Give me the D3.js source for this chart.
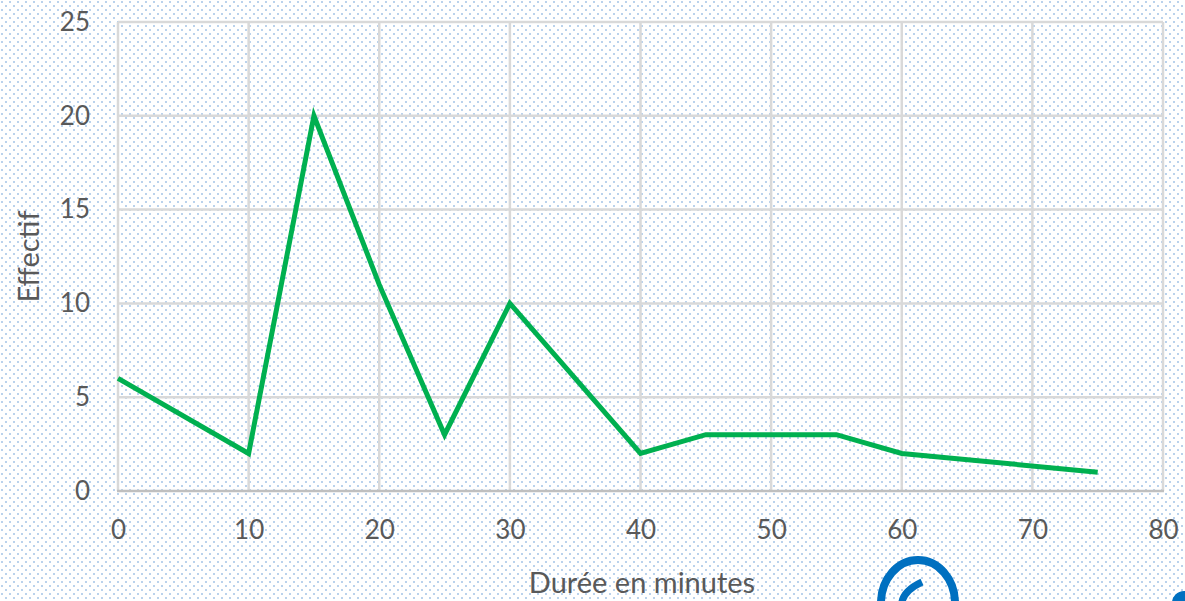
<!DOCTYPE html>
<html>
<head>
<meta charset="utf-8">
<script src="https://cdn.jsdelivr.net/npm/d3@7"></script>
<style>
  html, body { margin: 0; padding: 0; background: #fff; }
  svg { display: block; }
</style>
</head>
<body>
<script>
// chart data
const durations = [0, 10, 15, 20, 25, 30, 40, 45, 55, 60, 75];
const counts = [6, 2, 20, 11, 3, 10, 2, 3, 3, 2, 1];
const xTicks = [0, 10, 20, 30, 40, 50, 60, 70, 80];
const yTicks = [0, 5, 10, 15, 20, 25];
const xTitle = "Durée en minutes";
const yTitle = "Effectif";

const width = 1185, height = 601;
const margin = { left: 118, right: 22, top: 22, bottom: 110 };

const svg = d3.create("svg")
  .attr("width", width)
  .attr("height", height);
document.body.appendChild(svg.node());

// dotted background
const defs = svg.append("defs");
const pat = defs.append("pattern")
  .attr("id", "dots")
  .attr("width", 8).attr("height", 8)
  .attr("patternUnits", "userSpaceOnUse");
pat.append("rect").attr("width", 8).attr("height", 8).attr("fill", "#fff");
pat.append("circle").attr("cx", 2).attr("cy", 2).attr("r", 1).attr("fill", "#a3c4e6");
pat.append("circle").attr("cx", 6).attr("cy", 6).attr("r", 1).attr("fill", "#a3c4e6");
svg.append("rect").attr("width", width).attr("height", height).attr("fill", "url(#dots)");

const x = d3.scaleLinear().domain([0, 80]).range([margin.left, width - margin.right]);
const y = d3.scaleLinear().domain([0, 25]).range([height - margin.bottom, margin.top]);

const font = "Lato, 'Open Sans', sans-serif";
const textColor = "#595959";

// grid
svg.append("g")
  .selectAll("line.v")
  .data(xTicks)
  .join("line")
  .attr("x1", d => x(d)).attr("x2", d => x(d))
  .attr("y1", y(25)).attr("y2", y(0))
  .attr("stroke", "#d9d9d9").attr("stroke-width", 2.5);

svg.append("g")
  .selectAll("line.h")
  .data(yTicks.slice(1))
  .join("line")
  .attr("x1", x(0)).attr("x2", x(80))
  .attr("y1", d => y(d)).attr("y2", d => y(d))
  .attr("stroke", "#d9d9d9").attr("stroke-width", 2.5);

// x axis line
svg.append("line")
  .attr("x1", x(0) - 1).attr("x2", x(80) + 1)
  .attr("y1", y(0)).attr("y2", y(0))
  .attr("stroke", "#bfbfbf").attr("stroke-width", 2.5);

// axes labels via d3 axes
const xAxis = svg.append("g")
  .attr("transform", `translate(0,${y(0)})`)
  .call(d3.axisBottom(x).tickValues(xTicks).tickSize(0).tickPadding(30));
xAxis.select(".domain").remove();
xAxis.selectAll("text")
  .attr("fill", textColor)
  .style("font-family", font)
  .style("font-size", "26px");

const yAxis = svg.append("g")
  .attr("transform", `translate(${x(0)},0)`)
  .call(d3.axisLeft(y).tickValues(yTicks).tickSize(0).tickPadding(28));
yAxis.select(".domain").remove();
yAxis.selectAll("text")
  .attr("fill", textColor)
  .style("font-family", font)
  .style("font-size", "26px");

// titles
svg.append("text")
  .attr("x", 642).attr("y", 593)
  .attr("text-anchor", "middle")
  .attr("fill", textColor)
  .style("font-family", font)
  .style("font-size", "29px")
  .text(xTitle);

svg.append("text")
  .attr("transform", `translate(39,${(y(0) + y(25)) / 2}) rotate(-90)`)
  .attr("text-anchor", "middle")
  .attr("fill", textColor)
  .style("font-family", font)
  .style("font-size", "29px")
  .text(yTitle);

// data line
const line = d3.line()
  .x((d, i) => x(durations[i]))
  .y(d => y(d));

svg.append("path")
  .datum(counts)
  .attr("d", line)
  .attr("fill", "none")
  .attr("stroke", "#00b050")
  .attr("stroke-width", 5)
  .attr("stroke-linejoin", "miter");

// partial logo at the bottom edge
const logo = svg.append("g").attr("fill", "none").attr("stroke", "#0070c0");
logo.append("ellipse")
  .attr("cx", 918).attr("cy", 603).attr("rx", 37).attr("ry", 43)
  .attr("stroke-width", 8);
logo.append("path")
  .attr("d", "M922,582 C905,590 900,600 902,610")
  .attr("stroke-width", 7);
logo.append("circle")
  .attr("cx", 1184).attr("cy", 603).attr("r", 12)
  .attr("fill", "#0070c0").attr("stroke", "none");
</script>
</body>
</html>
